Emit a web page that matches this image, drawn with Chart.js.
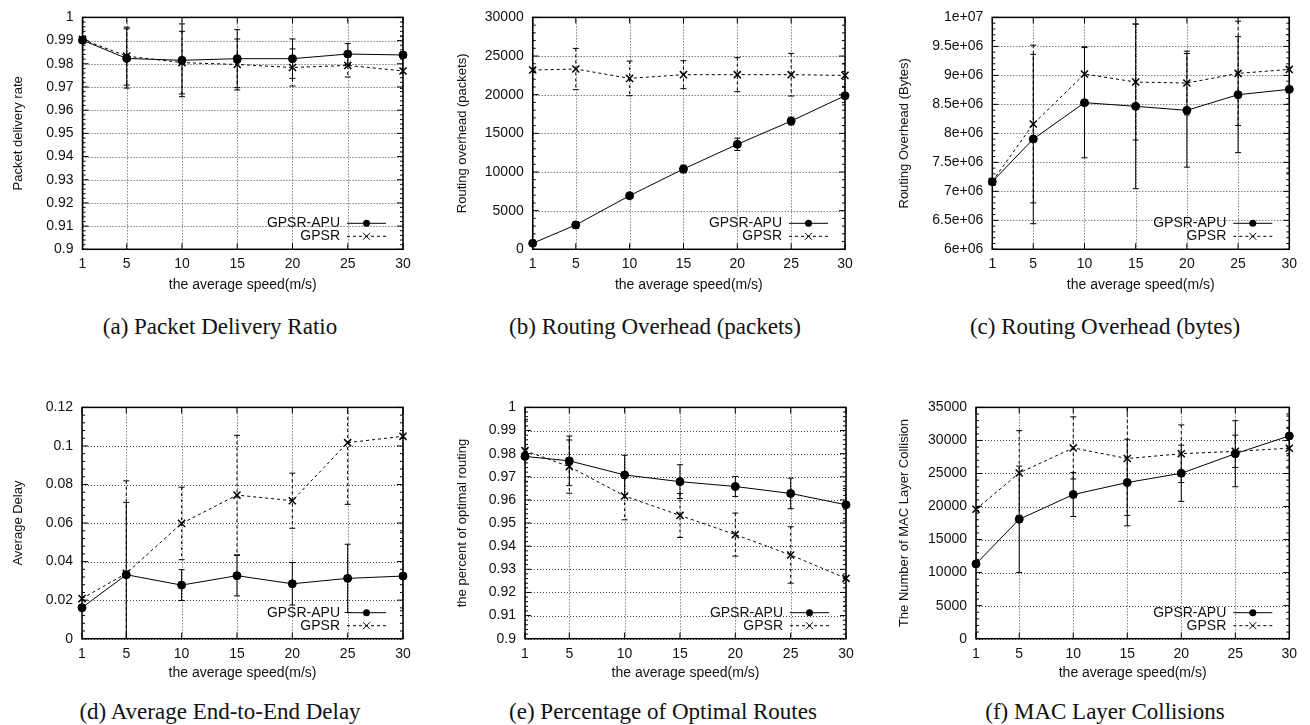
<!DOCTYPE html>
<html><head><meta charset="utf-8">
<script src="https://cdn.jsdelivr.net/npm/chart.js@4.4.0/dist/chart.umd.min.js"></script>
<style>
body{margin:0;background:#fff;width:1310px;height:725px;position:relative;overflow:hidden;}
canvas{position:absolute;}
.cap{position:absolute;font-family:"Liberation Serif","Times New Roman",serif;font-size:23px;color:#111;white-space:nowrap;transform:translate(-50%,-50%);}
</style></head><body>
<script>
// ---------- data ----------
const speeds = [1, 5, 10, 15, 20, 25, 30];
const xTickValues = [1, 5, 10, 15, 20, 25, 30];
const seriesNames = ['GPSR-APU', 'GPSR'];
const xAxisTitle = 'the average speed(m/s)';

// (a) Packet Delivery Ratio
const pdrApu = [0.9902, 0.9823, 0.9815, 0.9822, 0.9822, 0.9842, 0.9838];
const pdrApuErr = [0.0005, 0.0128, 0.0157, 0.0125, 0.0085, 0.0045, 0.0080];
const pdrGpsr = [0.9905, 0.9833, 0.9805, 0.9797, 0.9784, 0.9793, 0.9769];
const pdrGpsrErr = [0.0005, 0.0125, 0.0135, 0.0110, 0.0080, 0.0050, 0.0075];
const pdrTicks = [0.9, 0.91, 0.92, 0.93, 0.94, 0.95, 0.96, 0.97, 0.98, 0.99, 1];
const pdrTickLabels = ['0.9', '0.91', '0.92', '0.93', '0.94', '0.95', '0.96', '0.97', '0.98', '0.99', '1'];

// (b) Routing Overhead (packets)
const pktApu = [780, 3150, 6940, 10390, 13580, 16590, 19870];
const pktApuErr = [400, 450, 300, 500, 800, 500, 1200];
const pktGpsr = [23190, 23320, 22110, 22590, 22590, 22590, 22500];
const pktGpsrErr = [300, 2670, 2240, 1810, 2200, 2760, 1500];
const pktTicks = [0, 5000, 10000, 15000, 20000, 25000, 30000];
const pktTickLabels = ['0', '5000', '10000', '15000', '20000', '25000', '30000'];

// (c) Routing Overhead (bytes)
const byteApu = [7.167e6, 7.902e6, 8.529e6, 8.466e6, 8.397e6, 8.667e6, 8.759e6];
const byteApuErr = [0.02e6, 1.46e6, 0.95e6, 1.42e6, 0.98e6, 1.0e6, 1.44e6];
const byteGpsr = [7.17e6, 8.161e6, 9.023e6, 8.885e6, 8.868e6, 9.034e6, 9.103e6];
const byteGpsrErr = [0.02e6, 1.36e6, 0.47e6, 1.0e6, 0.55e6, 0.9e6, 0.6e6];
const byteTicks = [6e6, 6.5e6, 7e6, 7.5e6, 8e6, 8.5e6, 9e6, 9.5e6, 1e7];
const byteTickLabels = ['6e+06', '6.5e+06', '7e+06', '7.5e+06', '8e+06', '8.5e+06', '9e+06', '9.5e+06', '1e+07'];

// (d) Average End-to-End Delay
const delayApu = [0.0161, 0.0332, 0.0278, 0.0327, 0.0285, 0.0313, 0.0325];
const delayApuErr = [0.001, 0.0375, 0.008, 0.0105, 0.011, 0.0177, 0.018];
const delayGpsr = [0.0208, 0.0339, 0.0598, 0.0745, 0.0716, 0.1017, 0.1050];
const delayGpsrErr = [0.001, 0.048, 0.0188, 0.031, 0.0143, 0.032, 0.05];
const delayTicks = [0, 0.02, 0.04, 0.06, 0.08, 0.1, 0.12];
const delayTickLabels = ['0', '0.02', '0.04', '0.06', '0.08', '0.1', '0.12'];

// (e) Percentage of Optimal Routes
const optApu = [0.9788, 0.9769, 0.9708, 0.9679, 0.9658, 0.9628, 0.9579];
const optApuErr = [0.001, 0.0107, 0.0085, 0.0073, 0.0043, 0.0066, 0.007];
const optGpsr = [0.9813, 0.9744, 0.9617, 0.9533, 0.9450, 0.9362, 0.9261];
const optGpsrErr = [0.0135, 0.0115, 0.0103, 0.0095, 0.0093, 0.0122, 0.012];
const optTicks = [0.9, 0.91, 0.92, 0.93, 0.94, 0.95, 0.96, 0.97, 0.98, 0.99, 1];
const optTickLabels = ['0.9', '0.91', '0.92', '0.93', '0.94', '0.95', '0.96', '0.97', '0.98', '0.99', '1'];

// (f) MAC Layer Collisions
const macApu = [11320, 18070, 21810, 23630, 25030, 27990, 30690];
const macApuErr = [200, 8050, 3320, 6550, 4250, 5000, 3000];
const macGpsr = [19580, 25080, 28870, 27260, 27990, 28350, 28820];
const macGpsrErr = [200, 6400, 4700, 8600, 4360, 2450, 3000];
const macTicks = [0, 5000, 10000, 15000, 20000, 25000, 30000, 35000];
const macTickLabels = ['0', '5000', '10000', '15000', '20000', '25000', '30000', '35000'];

// ---------- layout ----------
const panels = [
  {id:'a', caption:'(a) Packet Delivery Ratio', ylabel:'Packet delivery rate', apu:pdrApu, apuErr:pdrApuErr, gpsr:pdrGpsr, gpsrErr:pdrGpsrErr, ticks:pdrTicks, labels:pdrTickLabels,
   L:82.5, R:403, T:17.3, B:249.3, yTitleX:18, xTitleY:285, capX:220, capY:327},
  {id:'b', caption:'(b) Routing Overhead (packets)', ylabel:'Routing overhead (packets)', apu:pktApu, apuErr:pktApuErr, gpsr:pktGpsr, gpsrErr:pktGpsrErr, ticks:pktTicks, labels:pktTickLabels,
   L:532.7, R:845, T:17.3, B:249.3, yTitleX:462, xTitleY:285, capX:655, capY:327},
  {id:'c', caption:'(c) Routing Overhead (bytes)', ylabel:'Routing Overhead (Bytes)', apu:byteApu, apuErr:byteApuErr, gpsr:byteGpsr, gpsrErr:byteGpsrErr, ticks:byteTicks, labels:byteTickLabels,
   L:992.3, R:1289.3, T:17.3, B:249.3, yTitleX:904, xTitleY:285, capX:1105, capY:327},
  {id:'d', caption:'(d) Average End-to-End Delay', ylabel:'Average Delay', apu:delayApu, apuErr:delayApuErr, gpsr:delayGpsr, gpsrErr:delayGpsrErr, ticks:delayTicks, labels:delayTickLabels,
   L:82, R:403, T:407.3, B:638.7, yTitleX:18.5, xTitleY:673, capX:220, capY:712},
  {id:'e', caption:'(e) Percentage of Optimal Routes', ylabel:'the percent of optimal routing', apu:optApu, apuErr:optApuErr, gpsr:optGpsr, gpsrErr:optGpsrErr, ticks:optTicks, labels:optTickLabels,
   L:525, R:846, T:407.3, B:638.7, yTitleX:462, xTitleY:673, capX:663, capY:712},
  {id:'f', caption:'(f) MAC Layer Collisions', ylabel:'The Number of MAC Layer Collision', apu:macApu, apuErr:macApuErr, gpsr:macGpsr, gpsrErr:macGpsrErr, ticks:macTicks, labels:macTickLabels,
   L:976, R:1289.3, T:407.3, B:638.7, yTitleX:904, xTitleY:673, capX:1105, capY:712},
];

const FONT = '"Liberation Sans", Arial, Helvetica, sans-serif';
Chart.defaults.font.family = FONT;
Chart.defaults.font.size = 14;
Chart.defaults.color = '#111';
const TICK_SIZE = 14, YTITLE_SIZE = 13, XTITLE_SIZE = 14;
const LHX = XTITLE_SIZE * 1.2, LHY = YTITLE_SIZE * 1.2, LHT = TICK_SIZE * 1.2;

function drawX(ctx, x, y, r) {
  ctx.beginPath();
  ctx.moveTo(x - r, y - r); ctx.lineTo(x + r, y + r);
  ctx.moveTo(x - r, y + r); ctx.lineTo(x + r, y - r);
  ctx.stroke();
}

const gnuplotPlugin = {
  id: 'gp',
  beforeDatasetsDraw(chart, args, opts) {
    const {ctx, chartArea: ca, scales: {x, y}} = chart;
    ctx.save();
    // dotted grid
    ctx.strokeStyle = '#444'; ctx.lineWidth = 1; ctx.setLineDash([1, 2]);
    opts.yTicks.forEach(v => {
      const py = Math.round(y.getPixelForValue(v)) + 0.5;
      ctx.beginPath(); ctx.moveTo(ca.left, py); ctx.lineTo(ca.right, py); ctx.stroke();
    });
    xTickValues.forEach(v => {
      const px = Math.round(x.getPixelForValue(v)) + 0.5;
      ctx.beginPath(); ctx.moveTo(px, ca.top); ctx.lineTo(px, ca.bottom); ctx.stroke();
    });
    // error bars
    ctx.beginPath(); ctx.rect(ca.left, ca.top, ca.right - ca.left, ca.bottom - ca.top); ctx.clip();
    ctx.strokeStyle = '#000'; ctx.lineWidth = 1;
    chart.data.datasets.forEach((ds, i) => {
      const errs = opts.errors[i];
      ds.data.forEach((p, j) => {
        const e = errs[j];
        const px = x.getPixelForValue(p.x);
        const y1 = y.getPixelForValue(p.y + e), y2 = y.getPixelForValue(p.y - e);
        ctx.setLineDash(i === 1 ? [3, 3] : []);
        ctx.beginPath(); ctx.moveTo(px, y1); ctx.lineTo(px, y2); ctx.stroke();
        ctx.setLineDash([]);
        ctx.beginPath();
        ctx.moveTo(px - 3, y1); ctx.lineTo(px + 3, y1);
        ctx.moveTo(px - 3, y2); ctx.lineTo(px + 3, y2);
        ctx.stroke();
      });
    });
    ctx.restore();
  },
  afterDraw(chart, args, opts) {
    const {ctx, chartArea: ca, scales: {x, y}} = chart;
    ctx.save();
    ctx.strokeStyle = '#000'; ctx.lineWidth = 1; ctx.setLineDash([]);
    // inner tick marks
    const yt = opts.yTicks;
    yt.forEach((v, i) => {
      const py = y.getPixelForValue(v);
      ctx.beginPath();
      ctx.moveTo(ca.left, py); ctx.lineTo(ca.left + 6, py);
      ctx.moveTo(ca.right, py); ctx.lineTo(ca.right - 6, py);
      ctx.stroke();
      if (i < yt.length - 1) {
        const step = (yt[i + 1] - v) / 5;
        for (let k = 1; k < 5; k++) {
          const pm = y.getPixelForValue(v + step * k);
          ctx.beginPath();
          ctx.moveTo(ca.left, pm); ctx.lineTo(ca.left + 3, pm);
          ctx.moveTo(ca.right, pm); ctx.lineTo(ca.right - 3, pm);
          ctx.stroke();
        }
      }
    });
    xTickValues.forEach(v => {
      const px = x.getPixelForValue(v);
      ctx.beginPath();
      ctx.moveTo(px, ca.bottom); ctx.lineTo(px, ca.bottom - 6);
      ctx.moveTo(px, ca.top); ctx.lineTo(px, ca.top + 6);
      ctx.stroke();
    });
    // frame
    ctx.lineWidth = 1.5;
    ctx.strokeRect(ca.left, ca.top, ca.right - ca.left, ca.bottom - ca.top);
    // legend
    ctx.lineWidth = 1;
    ctx.font = '14px ' + FONT;
    ctx.fillStyle = '#111';
    ctx.textAlign = 'right'; ctx.textBaseline = 'middle';
    const r1 = ca.bottom - 26, r2 = ca.bottom - 13;
    const lx0 = ca.right - 56, lx1 = ca.right - 17, mx = (lx0 + lx1) / 2;
    ctx.fillText(seriesNames[0], ca.right - 63, r1);
    ctx.fillText(seriesNames[1], ca.right - 63, r2);
    ctx.beginPath(); ctx.moveTo(lx0, r1); ctx.lineTo(lx1, r1); ctx.stroke();
    ctx.fillStyle = '#000';
    ctx.beginPath(); ctx.arc(mx, r1, 3.5, 0, Math.PI * 2); ctx.fill();
    ctx.setLineDash([3, 3]);
    ctx.beginPath(); ctx.moveTo(lx0, r2); ctx.lineTo(lx1, r2); ctx.stroke();
    ctx.setLineDash([]);
    drawX(ctx, mx, r2, 3.5);
    ctx.restore();
  }
};

panels.forEach(p => {
  const canvasLeft = Math.floor(p.yTitleX - 10);
  const canvasTop = p.T < 100 ? 0 : 390;
  const padRight = 25;
  const width = Math.ceil(p.R + padRight - canvasLeft);
  const xBottom = p.xTitleY + LHX / 2;
  const height = Math.ceil(xBottom - canvasTop);
  const cv = document.createElement('canvas');
  cv.width = width; cv.height = height;
  cv.style.left = canvasLeft + 'px'; cv.style.top = canvasTop + 'px';
  cv.style.width = width + 'px'; cv.style.height = height + 'px';
  document.body.appendChild(cv);

  const cap = document.createElement('div');
  cap.className = 'cap'; cap.textContent = p.caption;
  cap.style.left = p.capX + 'px'; cap.style.top = p.capY + 'px';
  document.body.appendChild(cap);

  const yW = p.L - canvasLeft;
  const xH = height - (p.B - canvasTop);
  const padTop = p.T - canvasTop;
  const padR = width - (p.R - canvasLeft);

  new Chart(cv, {
    type: 'line',
    data: {
      datasets: [
        {label: seriesNames[0], data: speeds.map((s, i) => ({x: s, y: p.apu[i]})),
         borderColor: '#000', borderWidth: 1, pointStyle: 'circle', pointRadius: 4,
         pointBackgroundColor: '#000', pointBorderColor: '#000', tension: 0, clip: false},
        {label: seriesNames[1], data: speeds.map((s, i) => ({x: s, y: p.gpsr[i]})),
         borderColor: '#000', borderWidth: 1, borderDash: [3, 3], pointStyle: 'crossRot', pointRadius: 5,
         pointBorderWidth: 1.5, pointBorderColor: '#000', tension: 0, clip: false},
      ]
    },
    options: {
      responsive: false, animation: false, devicePixelRatio: 1,
      layout: {padding: {left: 0, right: padR, top: padTop, bottom: 0}},
      events: [],
      plugins: {
        legend: {display: false}, tooltip: {enabled: false},
        gp: {errors: [p.apuErr, p.gpsrErr], yTicks: p.ticks}
      },
      scales: {
        x: {
          type: 'linear', min: 1, max: 30,
          afterBuildTicks: s => { s.ticks = xTickValues.map(v => ({value: v})); },
          afterFit: s => { s.height = xH; },
          grid: {display: false, drawTicks: false},
          border: {display: false},
          ticks: {autoSkip: false, maxRotation: 0, padding: 15 - LHT / 2, color: '#111', font: {size: TICK_SIZE}},
          title: {display: true, text: xAxisTitle, color: '#111', font: {size: XTITLE_SIZE}, padding: {top: 0, bottom: 0}}
        },
        y: {
          type: 'linear', min: p.ticks[0], max: p.ticks[p.ticks.length - 1],
          afterBuildTicks: s => { s.ticks = p.ticks.map(v => ({value: v})); },
          afterFit: s => { s.width = yW; },
          grid: {display: false, drawTicks: false},
          border: {display: false},
          ticks: {padding: 9, color: '#111', font: {size: TICK_SIZE}, callback: (v, i) => p.labels[i]},
          title: {display: true, text: p.ylabel, color: '#111', font: {size: YTITLE_SIZE}, padding: {top: 10 - LHY / 2, bottom: 0}}
        }
      }
    },
    plugins: [gnuplotPlugin]
  });
});
</script>
</body></html>
